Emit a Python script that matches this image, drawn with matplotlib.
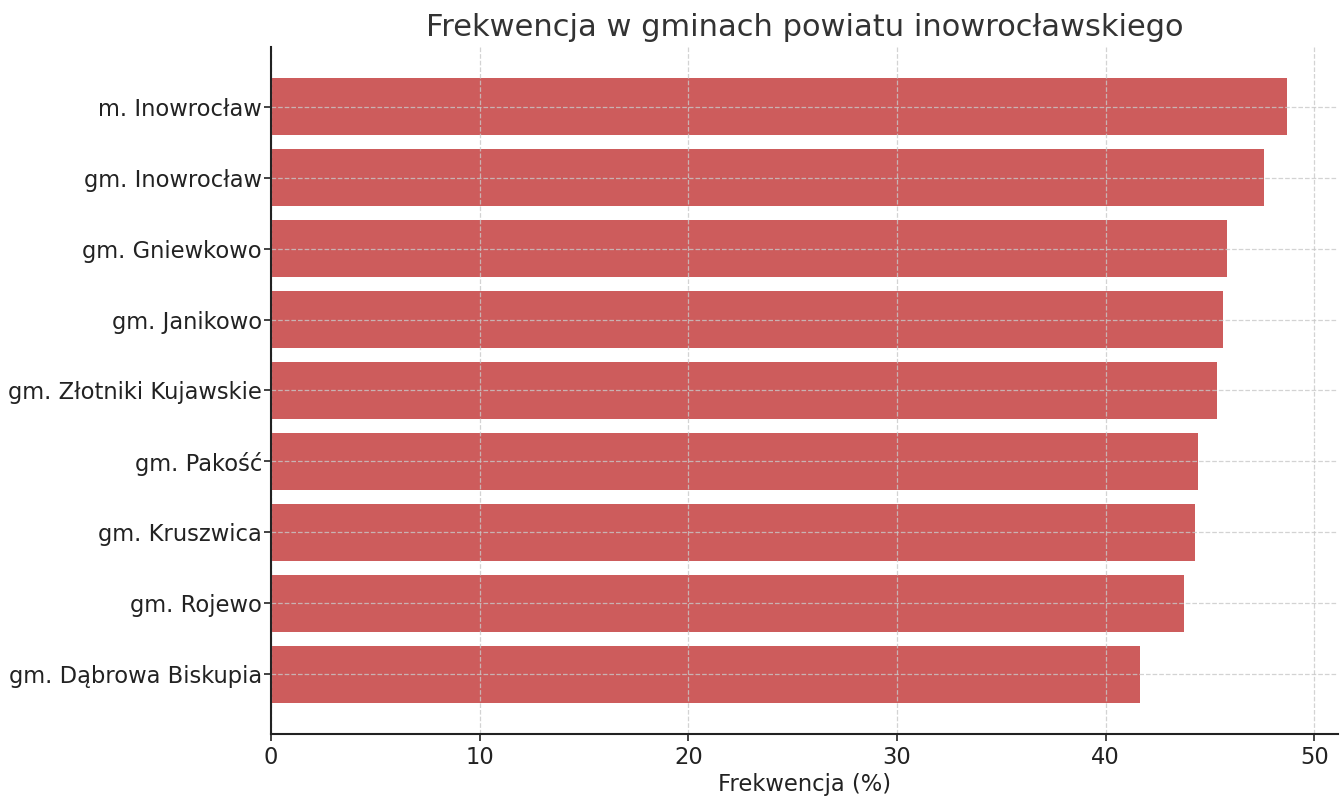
import numpy as np
import matplotlib.pyplot as plt

gminy = ["m. Inowrocław", "gm. Inowrocław", "gm. Gniewkowo", "gm. Janikowo",
         "gm. Złotniki Kujawskie", "gm. Pakość", "gm. Kruszwica", "gm. Rojewo",
         "gm. Dąbrowa Biskupia"]
frekwencja = [48.7, 47.6, 45.83, 45.6, 45.35, 44.44, 44.27, 43.74, 41.64]

plt.rcParams['font.family'] = ['DejaVu Sans']
fig = plt.figure(figsize=(13.43, 8.11), dpi=100)
ax = fig.add_axes([0.2018, 0.095, 0.7945, 0.847])

ax.barh(gminy, frekwencja, color="#cd5c5c", height=0.8)
ax.invert_yaxis()

ax.grid(True, linestyle="--", color="#c8c8c8", linewidth=0.9, alpha=0.8)
ax.set_axisbelow(False)
for s in ["top", "right"]:
    ax.spines[s].set_visible(False)
for s in ["left", "bottom"]:
    ax.spines[s].set_color("#222222")
    ax.spines[s].set_linewidth(1.5)
    ax.spines[s].set_zorder(5)

ax.tick_params(axis="both", labelsize=16.3, colors="#222222", length=5, width=1.2)
ax.tick_params(axis="y", pad=1.5)
ax.set_xlabel("Frekwencja (%)", fontsize=16.3, color="#222222", labelpad=3)
ax.set_title("Frekwencja w gminach powiatu inowrocławskiego", fontsize=22,
             color="#333333", pad=8)

fig.savefig("out.png", dpi=100)
